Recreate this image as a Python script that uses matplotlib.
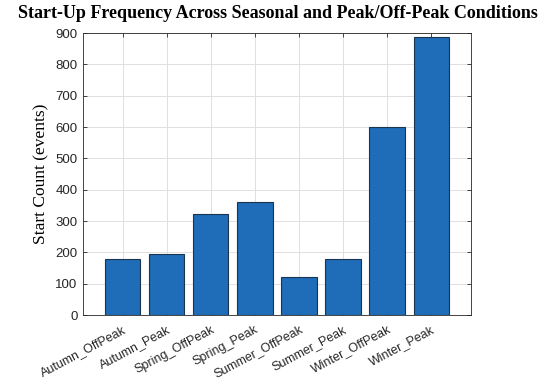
import matplotlib
matplotlib.use("Agg")
import matplotlib.pyplot as plt
import numpy as np

categories = ["Autumn_OffPeak", "Autumn_Peak", "Spring_OffPeak", "Spring_Peak",
              "Summer_OffPeak", "Summer_Peak", "Winter_OffPeak", "Winter_Peak"]
counts = [178, 195, 322, 360, 121, 178, 600, 888]
yticks = [0, 100, 200, 300, 400, 500, 600, 700, 800, 900]

fig = plt.figure(figsize=(5.5, 3.8), dpi=100)
ax = fig.add_axes([0.151, 0.171, 0.705, 0.742])
x = np.arange(1, len(categories) + 1)
ax.bar(x, counts, width=0.8, color="#1f6cb8", edgecolor="#1a3550", linewidth=0.8, zorder=3)
ax.set_xlim(0.1, 8.9)
ax.set_ylim(0, 900)
ax.set_yticks(yticks)
ax.set_xticks(x)
ax.set_xticklabels(categories, rotation=28, ha="right", rotation_mode="anchor",
                   fontsize=9, family="Liberation Sans", color="#262626")
for lab in ax.get_yticklabels():
    lab.set_fontsize(9.5)
    lab.set_family("Liberation Sans")
    lab.set_color("#262626")
ax.tick_params(direction="in", length=3, width=0.6, top=True, right=True, colors="#262626", pad=4)
ax.tick_params(axis="x", pad=6)
ax.grid(True, color="#e0e0e0", linewidth=0.7, zorder=0)
for s in ax.spines.values():
    s.set_color("#262626")
    s.set_linewidth(0.6)
ax.set_ylabel("Start Count (events)", family="Liberation Serif", fontsize=12.5)
fig.suptitle("Start-Up Frequency Across Seasonal and Peak/Off-Peak Conditions",
             family="Liberation Serif", fontweight="bold", fontsize=13, x=0.505, y=0.988)
fig.savefig("out.png", dpi=100)
